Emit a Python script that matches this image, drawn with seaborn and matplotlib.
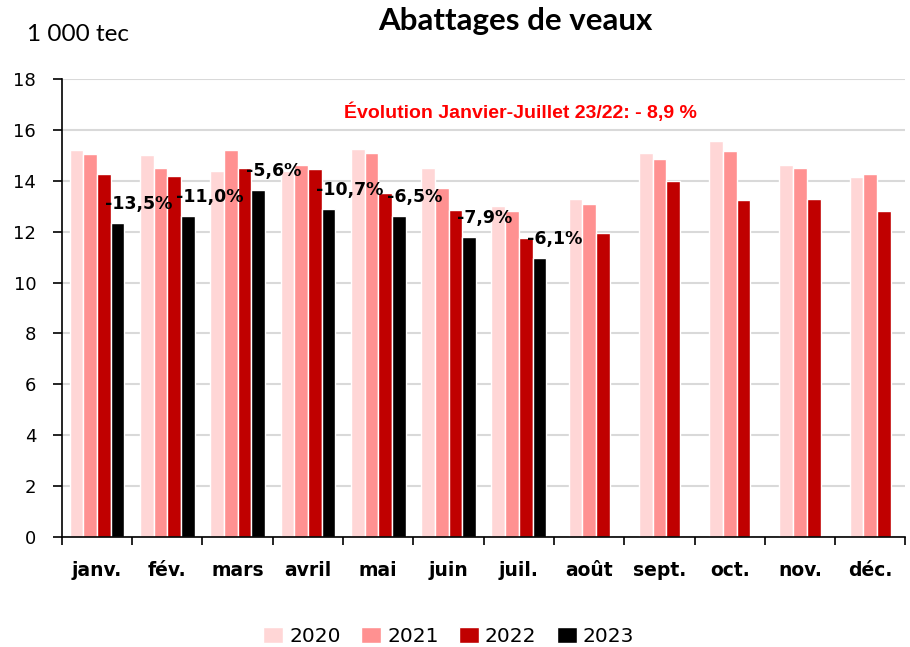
import numpy as np
import pandas as pd
import matplotlib.pyplot as plt
import seaborn as sns

months = ["janv.", "fév.", "mars", "avril", "mai", "juin", "juil.",
          "août", "sept.", "oct.", "nov.", "déc."]
years = ["2020", "2021", "2022", "2023"]
v2020 = [15.2, 15.0, 14.4, 14.4, 15.25, 14.5, 13.0, 13.3, 15.1, 15.55, 14.6, 14.15]
v2021 = [15.05, 14.5, 15.2, 14.6, 15.1, 13.7, 12.8, 13.1, 14.85, 15.15, 14.5, 14.25]
v2022 = [14.25, 14.2, 14.5, 14.45, 13.5, 12.85, 11.75, 11.95, 14.0, 13.25, 13.3, 12.8]
v2023 = [12.35, 12.6, 13.65, 12.9, 12.6, 11.8, 10.95]
evol_labels = ["-13,5%", "-11,0%", "-5,6%", "-10,7%", "-6,5%", "-7,9%", "-6,1%"]
colors = ["#FFD6D6", "#FF9191", "#C00000", "#000000"]

rows = []
for yr, vals in zip(years, [v2020, v2021, v2022, v2023]):
    for m, v in zip(months, vals):
        rows.append({"mois": m, "annee": yr, "valeur": v})
df = pd.DataFrame(rows)
n23 = len(v2023)
df_a = df[df["mois"].isin(months[:n23])]
df_b = df[df["mois"].isin(months[n23:])]

sns.set_theme(style="white")
plt.rcParams["font.family"] = ["DejaVu Sans"]
plt.rcParams["text.color"] = "black"
plt.rcParams["xtick.color"] = "black"
plt.rcParams["ytick.color"] = "black"

fig = plt.figure(figsize=(9.1, 6.47), dpi=100)
ax = fig.add_axes([0.068, 0.170, 0.927, 0.708])

# janv.-juil. : 4 années ; août-déc. : 3 années centrées
sns.barplot(data=df_a, x="mois", y="valeur", hue="annee", order=months[:n23],
            hue_order=years, palette=colors, width=0.78, ax=ax,
            edgecolor="white", linewidth=1, saturation=1, zorder=3,
            errorbar=None)
sns.barplot(data=df_b, x="mois", y="valeur", hue="annee", order=months,
            hue_order=years[:3], palette=colors[:3], width=0.585, ax=ax,
            edgecolor="white", linewidth=1, saturation=1, zorder=3,
            errorbar=None, legend=False)

# labels d'évolution sur les barres 2023
for i, (v, lab) in enumerate(zip(v2023, evol_labels)):
    ax.text(i + 0.12, v + 0.75, lab, ha="left", va="center",
            fontsize=12.5, fontweight="bold", color="black", zorder=5)

ax.text(0.543, 0.928, "Évolution Janvier-Juillet 23/22: - 8,9 %",
        transform=ax.transAxes, ha="center", va="center",
        fontsize=14, fontweight="bold", color="#FF0000",
        family="Liberation Sans")

ax.set_xlim(-0.5, 11.5)
ax.set_ylim(0, 18)
ax.set_yticks(range(0, 19, 2))
ax.set_xticks(range(len(months)))
ax.set_xticklabels(months)
ax.yaxis.grid(True, color="#D9D9D9", linewidth=1.5, zorder=0)
ax.set_axisbelow(True)
ax.set_xlabel("")
ax.set_ylabel("")

for s in ["top", "right"]:
    ax.spines[s].set_visible(False)
for s in ["left", "bottom"]:
    ax.spines[s].set_color("black")
    ax.spines[s].set_linewidth(1.2)
    ax.spines[s].set_zorder(10)

ax.tick_params(axis="y", left=True, direction="out", length=6.5, width=1.2,
               color="black", labelcolor="black", labelsize=13, pad=12)
ax.tick_params(axis="x", which="major", length=0, labelsize=13.5, pad=17,
               labelcolor="black")
ax.set_xticks(np.arange(-0.5, 12, 1), minor=True)
ax.tick_params(axis="x", which="minor", bottom=True, direction="out",
               length=6, width=1.2, color="black")
for t in ax.get_xticklabels():
    t.set_fontweight("bold")

fig.text(0.03, 0.947, "1 000 tec", fontsize=17.5, ha="left", va="center",
         family="Lato", color="black")
fig.text(0.566, 0.968, "Abattages de veaux", fontsize=22.5, fontweight="bold",
         ha="center", va="center", family="Lato", color="black")

handles, labels = ax.get_legend_handles_labels()
if ax.get_legend() is not None:
    ax.get_legend().remove()
leg = fig.legend(handles, labels, loc="center", bbox_to_anchor=(0.493, 0.016),
                 ncol=4, frameon=False, fontsize=14.5, handlelength=1.0,
                 handleheight=0.8, handletextpad=0.3, columnspacing=1.0)
for t in leg.get_texts():
    t.set_color("black")

fig.savefig("out.png", dpi=100)
